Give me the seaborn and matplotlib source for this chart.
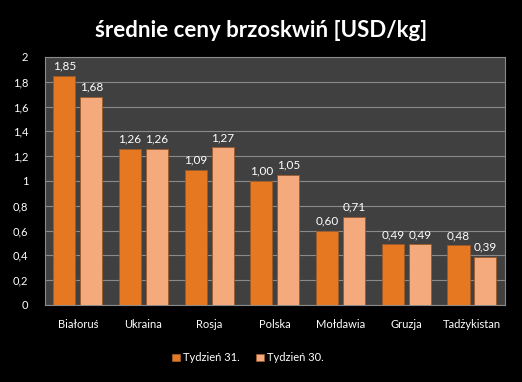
import pandas as pd
import matplotlib
matplotlib.use("Agg")
import matplotlib.pyplot as plt
import matplotlib.ticker as mticker
import seaborn as sns

# dane
kraje = ['Białoruś', 'Ukraina', 'Rosja', 'Polska', 'Mołdawia', 'Gruzja', 'Tadżykistan']
tydzien_31 = [1.85, 1.26, 1.09, 1.00, 0.60, 0.49, 0.48]
tydzien_30 = [1.68, 1.26, 1.27, 1.05, 0.71, 0.49, 0.39]
serie = ['Tydzień 31.', 'Tydzień 30.']
kolory = ['#E57820', '#F4AA7C']

df = pd.DataFrame({
    'kraj': kraje * 2,
    'cena': tydzien_31 + tydzien_30,
    'tydzien': [serie[0]] * len(kraje) + [serie[1]] * len(kraje),
})

sns.set_style("dark")
plt.rcParams['font.family'] = ['Lato', 'DejaVu Sans']

fig = plt.figure(figsize=(5.22, 3.82), dpi=100, facecolor='black')
ax = fig.add_axes([0.086, 0.2016, 0.881, 0.6494])
ax.set_facecolor('#404040')

sns.barplot(data=df, x='kraj', y='cena', hue='tydzien', palette=kolory,
            width=0.82, gap=0.18, saturation=1, edgecolor='#9a5a2a',
            linewidth=0.6, ax=ax, zorder=3)

# podpisy wartości
for cont in ax.containers:
    ax.bar_label(cont, labels=[f'{v:.2f}'.replace('.', ',') for v in cont.datavalues],
                 color='white', fontsize=8.5, padding=3)

ax.set_ylim(0, 2)
ax.set_yticks([i / 5 for i in range(11)])
ax.yaxis.set_major_formatter(mticker.FuncFormatter(lambda v, p: f'{v:g}'.replace('.', ',')))
ax.tick_params(axis='both', colors='white', labelsize=8, length=0)
ax.tick_params(axis='x', pad=10)
ax.tick_params(axis='y', pad=12)
ax.grid(axis='y', color='#8a8a8a', linewidth=0.8, zorder=0)
ax.grid(axis='x', visible=False)
ax.set_xlabel('')
ax.set_ylabel('')
for s in ax.spines.values():
    s.set_visible(True)
    s.set_color('#8a8a8a')
    s.set_linewidth(0.8)

fig.text(0.5, 0.92, 'średnie ceny brzoskwiń [USD/kg]', ha='center', va='center',
         color='white', fontsize=16, fontweight='bold')

leg = ax.legend(loc='center', bbox_to_anchor=(0.475, 0.063), bbox_transform=fig.transFigure,
                ncol=2, frameon=False, fontsize=8, handlelength=0.7, handleheight=0.7,
                handletextpad=0.3, columnspacing=1.5)
for t in leg.get_texts():
    t.set_color('white')

fig.savefig('out.png', dpi=100, facecolor='black')
